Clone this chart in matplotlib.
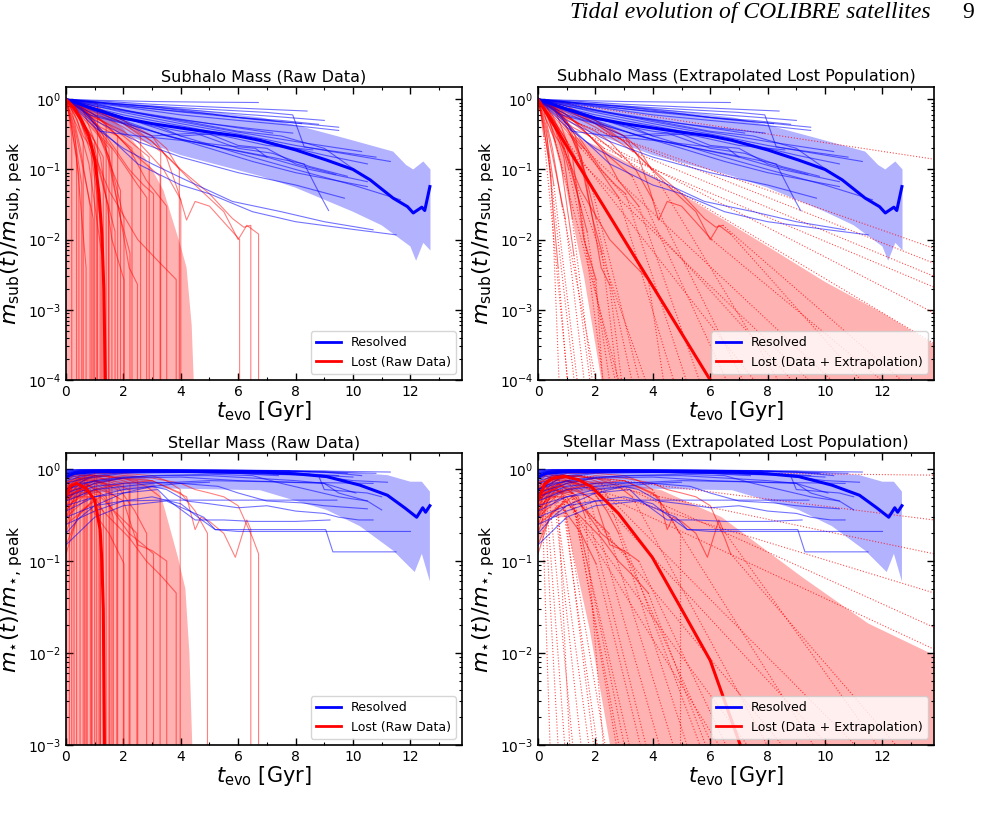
import numpy as np
import matplotlib.pyplot as plt
from matplotlib.lines import Line2D
from matplotlib.ticker import MultipleLocator

# ---------------- subhalo mass, resolved satellites (t_evo [Gyr], m/m_peak)
sub_res_t = [
    [0, 1, 3, 5, 6.7],
    [0, 1.5, 3, 5, 7, 8.4],
    [0, 2, 4, 6, 7.5, 9.0],
    [0, 2, 4, 6, 8, 9.5],
    [0, 2, 4, 6, 8, 9.5],
    [0, 1, 3, 5, 6.5, 7.9],
    [0, 1, 3, 5, 7, 7.9, 8.3, 9, 10.8],
    [0, 2, 4, 6, 8, 10.3],
    [0, 2, 4, 6, 8, 10, 11.3],
    [0, 1, 2.5, 4, 5.5, 7, 8.5, 10.5],
    [0, 1.5, 3, 5, 6.5, 8, 10.5],
    [0, 2, 3.5, 5, 6.8, 8.3, 8.9, 9.15],
    [0, 1, 2.5, 4, 6, 8, 9.7],
    [0, 2, 4, 6, 8, 10, 11.65],
    [0, 1, 2, 3, 4.2, 5.8, 7.5, 9, 10.7],
    [0, 1, 2.5, 4, 5, 6.5, 8, 10, 11.5],
    [0, 0.5, 1, 2, 3, 4, 5, 6, 7, 8, 9, 10.5],
    [0, 1, 2, 3, 4, 5.5, 7, 8.6],
    [0, 0.6, 1.2, 2.5, 4, 5.5, 6.6, 7],
    [0, 1, 2, 4, 6, 7.5, 9, 10.2],
    [0, 1, 2, 3, 4, 5, 6, 7, 8, 9.4],
    [0, 0.8, 2, 3, 4.5, 6, 7.2, 8.5, 9.8],
    [0, 1, 2, 3.5, 5, 6.5, 8.2],
    [0, 1.5, 3, 4.5, 6, 7.5, 8.8],
    [0, 1, 2.5, 4, 5.5, 7.2],
]
sub_res_v = [
    [1, 0.97, 0.93, 0.91, 0.9],
    [1, 0.93, 0.85, 0.78, 0.72, 0.68],
    [1, 0.85, 0.72, 0.62, 0.56, 0.5],
    [1, 0.82, 0.66, 0.55, 0.46, 0.4],
    [1, 0.78, 0.6, 0.5, 0.42, 0.36],
    [1, 0.8, 0.58, 0.45, 0.38, 0.33],
    [1, 0.9, 0.8, 0.72, 0.65, 0.6, 0.21, 0.19, 0.15],
    [1, 0.7, 0.48, 0.34, 0.25, 0.18],
    [1, 0.65, 0.45, 0.32, 0.22, 0.16, 0.13],
    [1, 0.6, 0.4, 0.27, 0.2, 0.15, 0.1, 0.067],
    [1, 0.55, 0.35, 0.2, 0.13, 0.09, 0.057],
    [1, 0.5, 0.3, 0.22, 0.16, 0.12, 0.04, 0.026],
    [1, 0.5, 0.25, 0.15, 0.09, 0.06, 0.039],
    [1, 0.55, 0.3, 0.17, 0.1, 0.06, 0.037],
    [1, 0.4, 0.2, 0.12, 0.07, 0.035, 0.025, 0.018, 0.0138],
    [1, 0.45, 0.12, 0.06, 0.045, 0.025, 0.018, 0.014, 0.0117],
    [1, 0.85, 0.75, 0.6, 0.5, 0.42, 0.35, 0.3, 0.25, 0.2, 0.16, 0.12],
    [1, 0.75, 0.55, 0.42, 0.35, 0.3, 0.22, 0.19],
    [1, 0.7, 0.35, 0.3, 0.26, 0.22, 0.2, 0.15],
    [1, 0.88, 0.7, 0.5, 0.35, 0.3, 0.2, 0.09],
    [1, 0.7, 0.52, 0.45, 0.3, 0.32, 0.22, 0.2, 0.12, 0.085],
    [1, 0.6, 0.45, 0.3, 0.33, 0.2, 0.17, 0.11, 0.08],
    [1, 0.92, 0.8, 0.7, 0.62, 0.52, 0.45],
    [1, 0.88, 0.78, 0.66, 0.55, 0.5, 0.44],
    [1, 0.85, 0.65, 0.52, 0.42, 0.33],
]
sub_res_med_t = [0, 1, 2, 3, 4, 5, 6, 6.76, 8, 9.08, 10, 10.6, 11.4, 11.9, 12.1, 12.4, 12.5, 12.68]
sub_res_med_v = [1, 0.72, 0.54, 0.45, 0.39, 0.34, 0.30, 0.26, 0.19, 0.136, 0.1, 0.071, 0.039, 0.0295, 0.024, 0.029, 0.026, 0.057]
sub_res_hi_t = [0, 2, 4, 6.8, 8, 9.7, 11.4, 11.85, 12.1, 12.45, 12.7]
sub_res_hi_v = [1, 0.9, 0.75, 0.55, 0.43, 0.28, 0.18, 0.116, 0.1, 0.13, 0.1]
sub_res_lo_t = [0, 1, 2, 4, 6.8, 8, 10, 11, 12, 12.2, 12.45, 12.7]
sub_res_lo_v = [1, 0.55, 0.32, 0.16, 0.08, 0.055, 0.025, 0.016, 0.008, 0.005, 0.009, 0.007]

# ---------------- subhalo mass, lost satellites (last point = time the subhalo is lost)
sub_lost_t = [
    [0, 0.1, 0.2], [0, 0.15, 0.37], [0, 0.3, 0.55], [0, 0.3, 0.55, 0.7],
    [0, 0.2, 0.5, 0.84], [0, 0.4, 0.8, 1.07], [0, 0.5, 0.9, 1.19],
    [0, 0.3, 0.8, 1.2, 1.48], [0, 0.5, 1.0, 1.4, 1.71], [0, 0.6, 1.2, 1.6, 2.02],
    [0, 0.5, 1, 1.5, 2.02], [0, 0.8, 1.5, 1.9, 2.23], [0, 0.7, 1.3, 1.9, 2.2, 2.49],
    [0, 0.5, 1.2, 2.0, 2.5, 2.81], [0, 0.6, 1.4, 2.2, 2.7, 3.05], [0, 1, 1.8, 2.5, 3.0, 3.28],
    [0, 0.8, 1.5, 2.2, 2.8, 3.51], [0, 0.5, 1.5, 2.5, 3.2, 3.84], [0, 1, 2, 2.5, 3, 3.4, 4.0],
    [0, 1, 2, 3, 3.5, 3.95],
    [0, 1, 2, 3, 3.5, 3.9, 4.2, 4.5, 5.0, 5.6, 6.05],
    [0, 1, 2, 3, 4, 5, 5.8, 6.2, 6.44],
    [0, 1.5, 3, 4.5, 5.5, 6.0, 6.3, 6.71],
    [0, 0.5, 1.1], [0, 0.5, 1, 1.4], [0, 1, 2, 2.6], [0, 1, 2, 3, 3.3], [0, 0.8, 1.6, 2.3],
    [0, 0.5, 1.2, 1.8], [0, 1, 2, 2.9], [0, 0.6, 1.2, 1.6], [0, 0.4, 0.9, 1.3],
    [0, 0.5, 1.0, 1.5], [0, 0.3, 0.7, 1.0], [0, 0.3, 0.6, 0.9], [0, 0.2, 0.4, 0.6],
    [0, 0.3, 0.6, 0.95], [0, 0.4, 0.8, 1.25], [0, 0.2, 0.45], [0, 0.5, 1.1, 1.6, 1.9],
]
sub_lost_v = [
    [1, 0.6, 0.3], [1, 0.5, 0.15], [1, 0.3, 0.06], [1, 0.35, 0.02, 0.004],
    [1, 0.7, 0.2, 0.03], [1, 0.6, 0.25, 0.1], [1, 0.5, 0.15, 0.02],
    [1, 0.8, 0.3, 0.08, 0.03], [1, 0.6, 0.2, 0.04, 0.013], [1, 0.7, 0.15, 0.01, 0.0027],
    [1, 0.8, 0.5, 0.15, 0.02], [1, 0.6, 0.15, 0.02, 0.0064], [1, 0.7, 0.3, 0.02, 0.004, 0.0023],
    [1, 0.8, 0.35, 0.12, 0.06, 0.04], [1, 0.75, 0.3, 0.1, 0.06, 0.045], [1, 0.6, 0.3, 0.15, 0.1, 0.08],
    [1, 0.7, 0.4, 0.2, 0.07, 0.03], [1, 0.5, 0.05, 0.01, 0.005, 0.0027], [1, 0.55, 0.35, 0.25, 0.15, 0.1, 0.037],
    [1, 0.7, 0.45, 0.3, 0.2, 0.1],
    [1, 0.7, 0.5, 0.3, 0.15, 0.05, 0.019, 0.035, 0.03, 0.016, 0.01],
    [1, 0.8, 0.5, 0.25, 0.1, 0.045, 0.02, 0.015, 0.016],
    [1, 0.6, 0.25, 0.06, 0.025, 0.01, 0.016, 0.012],
    [1, 0.95, 0.86], [1, 0.75, 0.55, 0.45], [1, 0.7, 0.45, 0.3], [1, 0.65, 0.4, 0.22, 0.18], [1, 0.6, 0.35, 0.2],
    [1, 0.7, 0.4, 0.3], [1, 0.6, 0.3, 0.15], [1, 0.6, 0.3, 0.2], [1, 0.6, 0.3, 0.15],
    [1, 0.6, 0.35, 0.2], [1, 0.7, 0.4, 0.25], [1, 0.6, 0.3, 0.2], [1, 0.6, 0.4, 0.25],
    [1, 0.4, 0.1, 0.02], [1, 0.5, 0.12, 0.006], [1, 0.4, 0.08], [1, 0.75, 0.35, 0.1, 0.05],
]
# where each extrapolated track leaves the panel (t, m/m_peak)
sub_ext_t = [1.1, 1.34, 1.45, 1.08, 2.15, 2.85, 1.98, 2.36, 2.6, 2.3, 3.43, 2.85, 3.0, 4.94, 5.4, 6.9,
             5.87, 4.48, 7.5, 8.8, 12.85, 13.5, 11.9, 13.8, 13.8, 13.8, 13.8, 13.8, 13.8, 13.8,
             11.0, 10.2, 9.5, 8.1, 4.0, 3.0, 1.69, 1.9, 0.76, 3.7]
sub_ext_v = [1e-4, 1e-4, 1e-4, 1e-4, 1e-4, 1e-4, 1e-4, 1e-4, 1e-4, 1e-4, 1e-4, 1e-4, 1e-4, 1e-4, 1e-4, 1e-4,
             1e-4, 1e-4, 1e-4, 1e-4, 1e-4, 1e-4, 1e-4, 0.14, 0.0075, 0.0046, 0.003, 0.0021, 9e-4, 3.3e-4,
             1e-4, 1e-4, 1e-4, 1e-4, 1e-4, 1e-4, 1e-4, 1e-4, 1e-4, 1e-4]
sub_lost_med_t = [0, 0.3, 0.6, 0.8, 1.0, 1.15, 1.25, 1.32, 1.37]
sub_lost_med_v = [1, 0.75, 0.45, 0.3, 0.14, 0.045, 0.012, 0.002, 1e-4]
sub_lost_hi_t = [0, 0.5, 1, 1.5, 2, 2.5, 3, 3.4, 3.7, 4.0, 4.2, 4.38, 4.45]
sub_lost_hi_v = [1, 0.92, 0.78, 0.58, 0.38, 0.21, 0.1, 0.05, 0.02, 0.008, 0.004, 6e-4, 1e-4]
sub_ext_med_t = [0, 6.45]
sub_ext_med_v = [1, 1e-4]
sub_ext_hi_t = [0, 1, 2, 4, 6, 8, 10, 12, 13.8]
sub_ext_hi_v = [1, 0.33, 0.22, 0.08, 0.025, 0.008, 0.0025, 9e-4, 3.2e-4]
sub_ext_lo_t = [0, 0.5, 0.95, 1.6, 2.33, 13.8]
sub_ext_lo_v = [1, 0.3, 0.06, 0.003, 1e-4, 1e-4]

# ---------------- stellar mass, resolved satellites
st_res_t = [
    [0, 0.5, 2, 5, 8, 11.3],
    [0, 0.5, 2, 5, 8, 10.8],
    [0, 1, 3, 6, 9, 10.3],
    [0, 1, 3, 6, 8, 9.5],
    [0, 1, 3, 5, 7, 8.5],
    [0, 1, 2, 4, 6, 7, 7.4],
    [0, 0.5, 2, 4, 6, 8.8, 9, 10.5, 11],
    [0, 1, 2, 3.5, 5, 6.5, 8, 9, 9.5, 10.5, 11],
    [0, 1, 2, 3.3, 5, 7, 9.44],
    [0, 1, 2, 3, 3.5, 4.2, 5, 6, 7, 8, 9, 9.5, 10.2, 10.7],
    [0, 1, 2, 3.2, 3.6, 4.5, 5.5, 6.5, 7, 8, 9.2],
    [0, 1, 2, 3, 4, 4.6, 5.2, 6, 6.5, 9.2, 12.0],
    [0, 1, 2, 3.5, 4.8, 5.2, 9.05, 9.3, 11.5],
    [0, 1, 2, 4, 6, 8, 10, 11.2],
    [0, 0.5, 2, 4, 6, 8, 10.7],
    [0, 1, 3, 5, 7, 9, 10.1],
    [0, 1, 2, 3, 4, 5.3, 6, 7, 8.2, 9, 10.5],
    [0, 0.5, 1.5, 3, 5],
    [0, 0.5, 1, 2, 3, 4, 5],
    [0, 1, 2, 3, 5, 6.5, 7.5, 9.5, 10.5],
    [0, 0.5, 2, 4, 6, 8, 9.8],
    [0, 0.4, 1.5, 3.5, 6, 8.5],
    [0, 0.5, 1.5, 3, 5.5, 7.8],
    [0, 0.8, 2, 4, 6, 8.5, 10],
    [0, 0.3, 1, 2.5, 4, 6.2],
]
st_res_v = [
    [0.95, 0.98, 0.99, 0.98, 0.96, 0.93],
    [0.9, 0.96, 0.98, 0.97, 0.95, 0.9],
    [0.85, 0.95, 0.97, 0.96, 0.93, 0.85],
    [0.8, 0.92, 0.95, 0.94, 0.9, 0.85],
    [0.75, 0.9, 0.93, 0.92, 0.9, 0.88],
    [0.7, 0.85, 0.92, 0.93, 0.9, 0.86, 0.85],
    [0.9, 0.95, 0.95, 0.93, 0.9, 0.85, 0.6, 0.55, 0.5],
    [0.6, 0.75, 0.82, 0.85, 0.85, 0.8, 0.75, 0.7, 0.55, 0.45, 0.36],
    [0.3, 0.4, 0.45, 0.46, 0.46, 0.46, 0.46],
    [0.4, 0.5, 0.6, 0.65, 0.6, 0.45, 0.42, 0.38, 0.4, 0.35, 0.33, 0.3, 0.28, 0.28],
    [0.35, 0.5, 0.55, 0.6, 0.45, 0.28, 0.28, 0.27, 0.27, 0.27, 0.28],
    [0.25, 0.35, 0.45, 0.5, 0.42, 0.3, 0.22, 0.21, 0.21, 0.21, 0.21],
    [0.15, 0.3, 0.4, 0.45, 0.3, 0.22, 0.22, 0.126, 0.126],
    [0.98, 0.99, 0.98, 0.97, 0.95, 0.9, 0.75, 0.72],
    [0.6, 0.7, 0.8, 0.82, 0.75, 0.72, 0.7],
    [0.45, 0.6, 0.7, 0.75, 0.73, 0.7, 0.55],
    [0.5, 0.65, 0.7, 0.72, 0.7, 0.65, 0.55, 0.45, 0.43, 0.4, 0.37],
    [0.92, 0.96, 0.97, 0.97, 0.96],
    [0.2, 0.3, 0.4, 0.55, 0.65, 0.7, 0.72],
    [0.55, 0.7, 0.8, 0.85, 0.88, 0.85, 0.7, 0.5, 0.45],
    [0.93, 0.97, 0.98, 0.98, 0.97, 0.95, 0.9],
    [0.88, 0.95, 0.97, 0.97, 0.96, 0.94],
    [0.97, 0.99, 0.99, 0.98, 0.97, 0.96],
    [0.6, 0.8, 0.9, 0.92, 0.9, 0.87, 0.82],
    [0.8, 0.9, 0.95, 0.96, 0.95, 0.94],
]
st_res_med_t = [0, 0.3, 1, 3, 5, 6.76, 8, 9.08, 10.24, 11.2, 11.8, 12.22, 12.43, 12.53, 12.68]
st_res_med_v = [0.83, 0.9, 0.94, 0.95, 0.94, 0.93, 0.89, 0.83, 0.67, 0.52, 0.38, 0.30, 0.38, 0.34, 0.40]
st_res_hi_t = [0, 1, 5, 9, 11.2, 12.0, 12.4, 12.68]
st_res_hi_v = [1, 1, 1, 0.97, 0.86, 0.73, 0.73, 0.57]
st_res_lo_t = [0, 1, 3, 6.76, 9.08, 10.24, 11.4, 12.15, 12.4, 12.68]
st_res_lo_v = [0.45, 0.55, 0.62, 0.59, 0.36, 0.24, 0.13, 0.076, 0.12, 0.06]

# ---------------- stellar mass, lost satellites
st_lost_t = [
    [0, 0.12], [0, 0.1, 0.2], [0, 0.15, 0.28], [0, 0.2, 0.37], [0, 0.25, 0.49], [0, 0.3, 0.6],
    [0, 0.4, 0.74], [0, 0.4, 0.9], [0, 0.5, 1.07], [0, 0.6, 1.19], [0, 0.6, 1.0, 1.3],
    [0, 0.5, 1.0, 1.53], [0, 0.5, 1.2, 1.77], [0, 0.8, 1.5, 2.02], [0, 0.7, 1.5, 2.23],
    [0, 0.5, 1.2, 1.9, 2.47], [0, 1, 1.8, 2.4, 2.81], [0, 0.5, 1.3, 2.2, 2.7, 3.05],
    [0, 1, 2, 2.8, 3.28], [0, 1, 2, 2.5, 3, 3.51], [0, 0.8, 1.5, 2.2, 2.8, 3.3, 3.84],
    [0, 1, 2, 3, 3.5, 3.98], [0, 1, 2, 3, 4, 4.5, 4.93],
    [0, 1, 2, 3, 4.2, 4.5, 4.7, 5, 5.5, 5.9, 6.3, 6.44],
    [0, 1, 2, 3, 4, 4.5, 5, 5.5, 6, 6.5, 6.71],
    [0, 0.5, 1.0], [0, 0.5, 1.5], [0, 0.6, 1.2, 2.0], [0, 0.5, 1.0, 1.6], [0, 0.5, 1.2, 2.5],
    [0, 0.4, 0.8, 1.4], [0, 0.5, 1.0, 2.2], [0, 0.5, 1.0, 1.8], [0, 0.3, 0.8, 1.2],
    [0, 0.3, 0.7], [0, 0.3, 0.9],
    [0, 0.3, 0.65], [0, 0.4, 0.85], [0, 0.5, 1.15], [0, 0.7, 1.4, 1.65],
]
st_lost_v = [
    [0.6, 0.7], [0.4, 0.6, 0.65], [0.3, 0.5, 0.55], [0.5, 0.7, 0.6], [0.7, 0.85, 0.8], [0.2, 0.4, 0.5],
    [0.6, 0.8, 0.75], [0.12, 0.3, 0.45], [0.8, 0.9, 0.85], [0.45, 0.7, 0.6], [0.3, 0.6, 0.5, 0.35],
    [0.65, 0.8, 0.75, 0.6], [0.35, 0.55, 0.6, 0.5], [0.25, 0.4, 0.2, 0.094], [0.5, 0.8, 0.85, 0.7],
    [0.15, 0.35, 0.5, 0.3, 0.2], [0.55, 0.75, 0.65, 0.35, 0.2], [0.4, 0.6, 0.5, 0.2, 0.15, 0.12],
    [0.6, 0.85, 0.8, 0.65, 0.5], [0.5, 0.7, 0.45, 0.15, 0.13, 0.1], [0.3, 0.5, 0.3, 0.18, 0.1, 0.07, 0.045],
    [0.7, 0.9, 0.9, 0.85, 0.75, 0.6], [0.5, 0.7, 0.8, 0.75, 0.55, 0.35, 0.2],
    [0.4, 0.6, 0.7, 0.75, 0.5, 0.22, 0.3, 0.27, 0.2, 0.11, 0.28, 0.22],
    [0.5, 0.75, 0.85, 0.8, 0.7, 0.6, 0.55, 0.5, 0.4, 0.18, 0.12],
    [0.85, 0.95, 0.95], [0.7, 0.85, 0.85], [0.6, 0.8, 0.8, 0.7], [0.5, 0.7, 0.75, 0.65], [0.6, 0.8, 0.85, 0.75],
    [0.5, 0.75, 0.8, 0.7], [0.7, 0.85, 0.85, 0.6], [0.6, 0.75, 0.75, 0.6], [0.4, 0.6, 0.65, 0.55],
    [0.5, 0.7, 0.6], [0.3, 0.5, 0.5],
    [0.8, 0.9, 0.85], [0.25, 0.5, 0.6], [0.35, 0.6, 0.55], [0.45, 0.7, 0.5, 0.3],
]
st_ext_t = [0.45, 0.75, 1.0, 1.3, 1.6, 1.9, 2.2, 2.5, 2.9, 3.2, 3.4, 4.0, 4.5, 3.8, 6.0, 5.0, 5.5, 6.5,
            8.5, 7.0, 6.2, 10.2, 4.93, 12.5, 13.3, 13.8, 13.8, 13.8, 13.8, 13.8, 13.8, 12.0, 11.0, 9.3, 8.0, 6.9,
            1.15, 2.05, 3.0, 2.35]
st_ext_v = [1e-3, 1e-3, 1e-3, 1e-3, 1e-3, 1e-3, 1e-3, 1e-3, 1e-3, 1e-3, 1e-3, 1e-3, 1e-3, 1e-3, 1e-3, 1e-3,
            1e-3, 1e-3, 1e-3, 1e-3, 1e-3, 1e-3, 1e-3, 1e-3, 1e-3, 0.86, 0.28, 0.12, 0.045, 0.019, 0.011,
            1e-3, 1e-3, 1e-3, 1e-3, 1e-3, 1e-3, 1e-3, 1e-3, 1e-3]
st_lost_med_t = [0, 0.15, 0.37, 0.7, 1.0, 1.19, 1.25, 1.3, 1.34]
st_lost_med_v = [0.52, 0.65, 0.7, 0.62, 0.46, 0.22, 0.1, 0.03, 1e-3]
st_lost_hi_t = [0, 0.5, 1, 2, 2.5, 3, 3.28, 3.46, 3.9, 4.16, 4.3, 4.4]
st_lost_hi_v = [0.9, 0.95, 0.95, 0.9, 0.85, 0.75, 0.55, 0.35, 0.11, 0.05, 0.01, 1e-3]
st_ext_med_t = [0, 0.25, 0.5, 0.94, 1.4, 1.87, 2.8, 3.98, 4.95, 6.0, 7.39]
st_ext_med_v = [0.46, 0.7, 0.8, 0.83, 0.77, 0.64, 0.33, 0.11, 0.032, 0.0083, 0.001]
st_ext_hi_t = [0, 1, 2, 3, 4.3, 6.4, 9.2, 11.5, 13.8]
st_ext_hi_v = [0.6, 0.75, 0.75, 0.7, 0.59, 0.3, 0.067, 0.021, 0.0095]
st_ext_lo_t = [0, 0.4, 0.94, 1.8, 2.68, 13.8]
st_ext_lo_v = [0.15, 0.3, 0.3, 0.018, 1e-3, 1e-3]

TMAX = 13.8
FLOOR = 1e-8


def band(ax, t_hi, v_hi, t_lo, v_lo, color):
    xs = list(t_hi) + list(t_lo)[::-1]
    ys = list(v_hi) + list(v_lo)[::-1]
    ax.fill(xs, ys, color=color, alpha=0.3, lw=0)


def style(ax, title, ylabel, ymin, lost_label):
    ax.set_yscale('log')
    ax.set_xlim(0, TMAX)
    ax.set_ylim(ymin, 1.5)
    ax.xaxis.set_major_locator(MultipleLocator(2))
    ax.xaxis.set_minor_locator(MultipleLocator(1))
    ax.tick_params(which='both', direction='in', top=True, right=True, labelsize=10)
    ax.tick_params(which='major', length=5, width=1)
    ax.tick_params(which='minor', length=2.5, width=0.8)
    for s in ax.spines.values():
        s.set_linewidth(1.2)
    ax.set_title(title, fontsize=11.5, pad=4)
    ax.set_xlabel(r'$t_{\rm evo}$ [Gyr]', fontsize=15, labelpad=0)
    ax.set_ylabel(ylabel, fontsize=16, labelpad=2)
    handles = [Line2D([], [], color='blue', lw=2), Line2D([], [], color='red', lw=2)]
    ax.legend(handles, ['Resolved', lost_label], loc='lower right', fontsize=9, framealpha=0.8)


def resolved(ax, res_t, res_v, med_t, med_v, hi_t, hi_v, lo_t, lo_v):
    for t, v in zip(res_t, res_v):
        ax.plot(t, v, color='blue', lw=0.8, alpha=0.55)
    band(ax, hi_t, hi_v, lo_t, lo_v, 'blue')
    ax.plot(med_t, med_v, color='blue', lw=2.2)


def raw_panel(ax, res, lost_t, lost_v, med_t, med_v, hi_t, hi_v, title, ylabel, ymin):
    for t, v in zip(lost_t, lost_v):
        ax.plot(list(t) + [t[-1]], list(v) + [FLOOR], color='red', lw=0.8, alpha=0.5)
    band(ax, hi_t, hi_v, [0, hi_t[-1]], [FLOOR, FLOOR], 'red')
    resolved(ax, *res)
    ax.plot(list(med_t) + [med_t[-1]], list(med_v) + [FLOOR], color='red', lw=2.2)
    style(ax, title, ylabel, ymin, 'Lost (Raw Data)')


def ext_panel(ax, res, lost_t, lost_v, ext_t, ext_v, med_t, med_v, hi_t, hi_v, lo_t, lo_v,
              title, ylabel, ymin):
    for t, v, te, ve in zip(lost_t, lost_v, ext_t, ext_v):
        ax.plot(t, v, color='red', lw=0.8, alpha=0.55)
        ax.plot([t[-1], te], [v[-1], ve * (0.5 if ve <= ymin else 1)], color='red', lw=0.8,
                ls=':', alpha=0.7)
    band(ax, hi_t, hi_v, lo_t, [x * (0.5 if x <= ymin else 1) for x in lo_v], 'red')
    resolved(ax, *res)
    ax.plot(med_t, [x * (0.5 if x <= ymin else 1) for x in med_v], color='red', lw=2.2)
    style(ax, title, ylabel, ymin, 'Lost (Data + Extrapolation)')


fig = plt.figure(figsize=(9.82, 8.21), dpi=100)
W, H = 0.4033, 0.3569
ax1 = fig.add_axes([0.0672, 0.5372, W, H])
ax2 = fig.add_axes([0.5479, 0.5372, W, H])
ax3 = fig.add_axes([0.0672, 0.0926, W, 0.3557])
ax4 = fig.add_axes([0.5479, 0.0926, W, 0.3557])

sub_res = (sub_res_t, sub_res_v, sub_res_med_t, sub_res_med_v,
           sub_res_hi_t, sub_res_hi_v, sub_res_lo_t, sub_res_lo_v)
st_res = (st_res_t, st_res_v, st_res_med_t, st_res_med_v,
          st_res_hi_t, st_res_hi_v, st_res_lo_t, st_res_lo_v)
ylab_sub = r'$m_{\rm sub}(t)/m_{\rm sub,\,peak}$'
ylab_st = r'$m_{\star}(t)/m_{\star,\,{\rm peak}}$'

raw_panel(ax1, sub_res, sub_lost_t, sub_lost_v, sub_lost_med_t, sub_lost_med_v,
          sub_lost_hi_t, sub_lost_hi_v, 'Subhalo Mass (Raw Data)', ylab_sub, 1e-4)
ext_panel(ax2, sub_res, sub_lost_t, sub_lost_v, sub_ext_t, sub_ext_v, sub_ext_med_t, sub_ext_med_v,
          sub_ext_hi_t, sub_ext_hi_v, sub_ext_lo_t, sub_ext_lo_v,
          'Subhalo Mass (Extrapolated Lost Population)', ylab_sub, 1e-4)
raw_panel(ax3, st_res, st_lost_t, st_lost_v, st_lost_med_t, st_lost_med_v,
          st_lost_hi_t, st_lost_hi_v, 'Stellar Mass (Raw Data)', ylab_st, 1e-3)
ext_panel(ax4, st_res, st_lost_t, st_lost_v, st_ext_t, st_ext_v, st_ext_med_t, st_ext_med_v,
          st_ext_hi_t, st_ext_hi_v, st_ext_lo_t, st_ext_lo_v,
          'Stellar Mass (Extrapolated Lost Population)', ylab_st, 1e-3)

fig.text(0.948, 0.997, 'Tidal evolution of COLIBRE satellites', ha='right', va='top',
         family='Liberation Serif', style='italic', fontsize=17)
fig.text(0.992, 0.997, '9', ha='right', va='top', family='Liberation Serif', fontsize=17)

fig.savefig('out.png', dpi=100)
